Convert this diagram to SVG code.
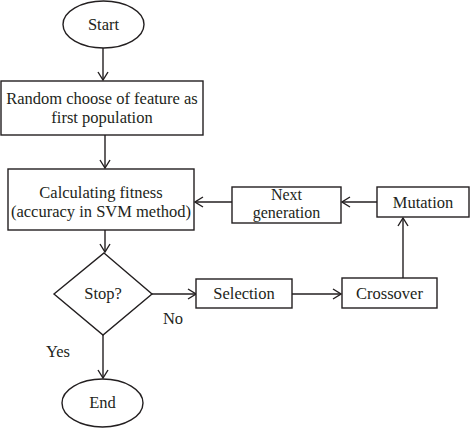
<svg xmlns="http://www.w3.org/2000/svg" width="471" height="428" viewBox="0 0 471 428">
<style>
.s{fill:#fff;stroke:#231f20;stroke-width:1.4}
.c{fill:none;stroke:#231f20;stroke-width:1.4}
text{font-family:"Liberation Serif","Times New Roman",serif;font-size:16.5px;fill:#231f20;text-anchor:middle}
.t{font-size:16px}
</style>
<defs>
<marker id="a" viewBox="0 0 10 12" refX="9" refY="6" markerWidth="10" markerHeight="12" markerUnits="userSpaceOnUse" orient="auto">
<path d="M1,1 L9,6 L1,11" fill="none" stroke="#231f20" stroke-width="1.4"/>
</marker>
</defs>
<rect width="471" height="428" fill="#fff"/>
<g id="connectors">
<line class="c" x1="103" y1="48" x2="103" y2="80" marker-end="url(#a)"/>
<line class="c" x1="105" y1="135" x2="105" y2="168" marker-end="url(#a)"/>
<line class="c" x1="105" y1="230" x2="105" y2="252" marker-end="url(#a)"/>
<line class="c" x1="152" y1="294" x2="196" y2="294" marker-end="url(#a)"/>
<line class="c" x1="292" y1="294" x2="341" y2="294" marker-end="url(#a)"/>
<line class="c" x1="403" y1="278" x2="403" y2="218" marker-end="url(#a)"/>
<line class="c" x1="377" y1="202" x2="342" y2="202" marker-end="url(#a)"/>
<line class="c" x1="232" y1="202" x2="195" y2="202" marker-end="url(#a)"/>
<line class="c" x1="103" y1="335" x2="103" y2="378" marker-end="url(#a)"/>
<text x="173" y="324">No</text>
<text x="58" y="357">Yes</text>
</g>
<g id="start">
<ellipse class="s" cx="103.5" cy="24.5" rx="40.5" ry="23.5"/>
<text x="103.5" y="30">Start</text>
</g>
<g id="random">
<rect class="s" x="1" y="81" width="202" height="54"/>
<text x="102" y="104">Random choose of feature as</text>
<text x="102" y="123">first population</text>
</g>
<g id="fitness">
<rect class="s" x="8" y="169" width="186" height="61"/>
<text x="101" y="198">Calculating fitness</text>
<text x="101" y="217">(accuracy in SVM method)</text>
</g>
<g id="stop">
<polygon class="s" points="104,253 152,294 103,335 54,294"/>
<text x="103" y="299">Stop?</text>
</g>
<g id="selection">
<rect class="s" x="196" y="279" width="96" height="29"/>
<text x="244" y="299">Selection</text>
</g>
<g id="crossover">
<rect class="s" x="342" y="278" width="95" height="30"/>
<text x="389.5" y="299">Crossover</text>
</g>
<g id="mutation">
<rect class="s" x="377" y="187" width="92" height="30"/>
<text x="423" y="208">Mutation</text>
</g>
<g id="nextgen">
<rect class="s" x="232" y="187" width="109" height="36"/>
<text class="t" x="286.5" y="200">Next</text>
<text class="t" x="286.5" y="218">generation</text>
</g>
<g id="end">
<ellipse class="s" cx="102.5" cy="403" rx="40.5" ry="24"/>
<text x="102.5" y="408">End</text>
</g>
</svg>
